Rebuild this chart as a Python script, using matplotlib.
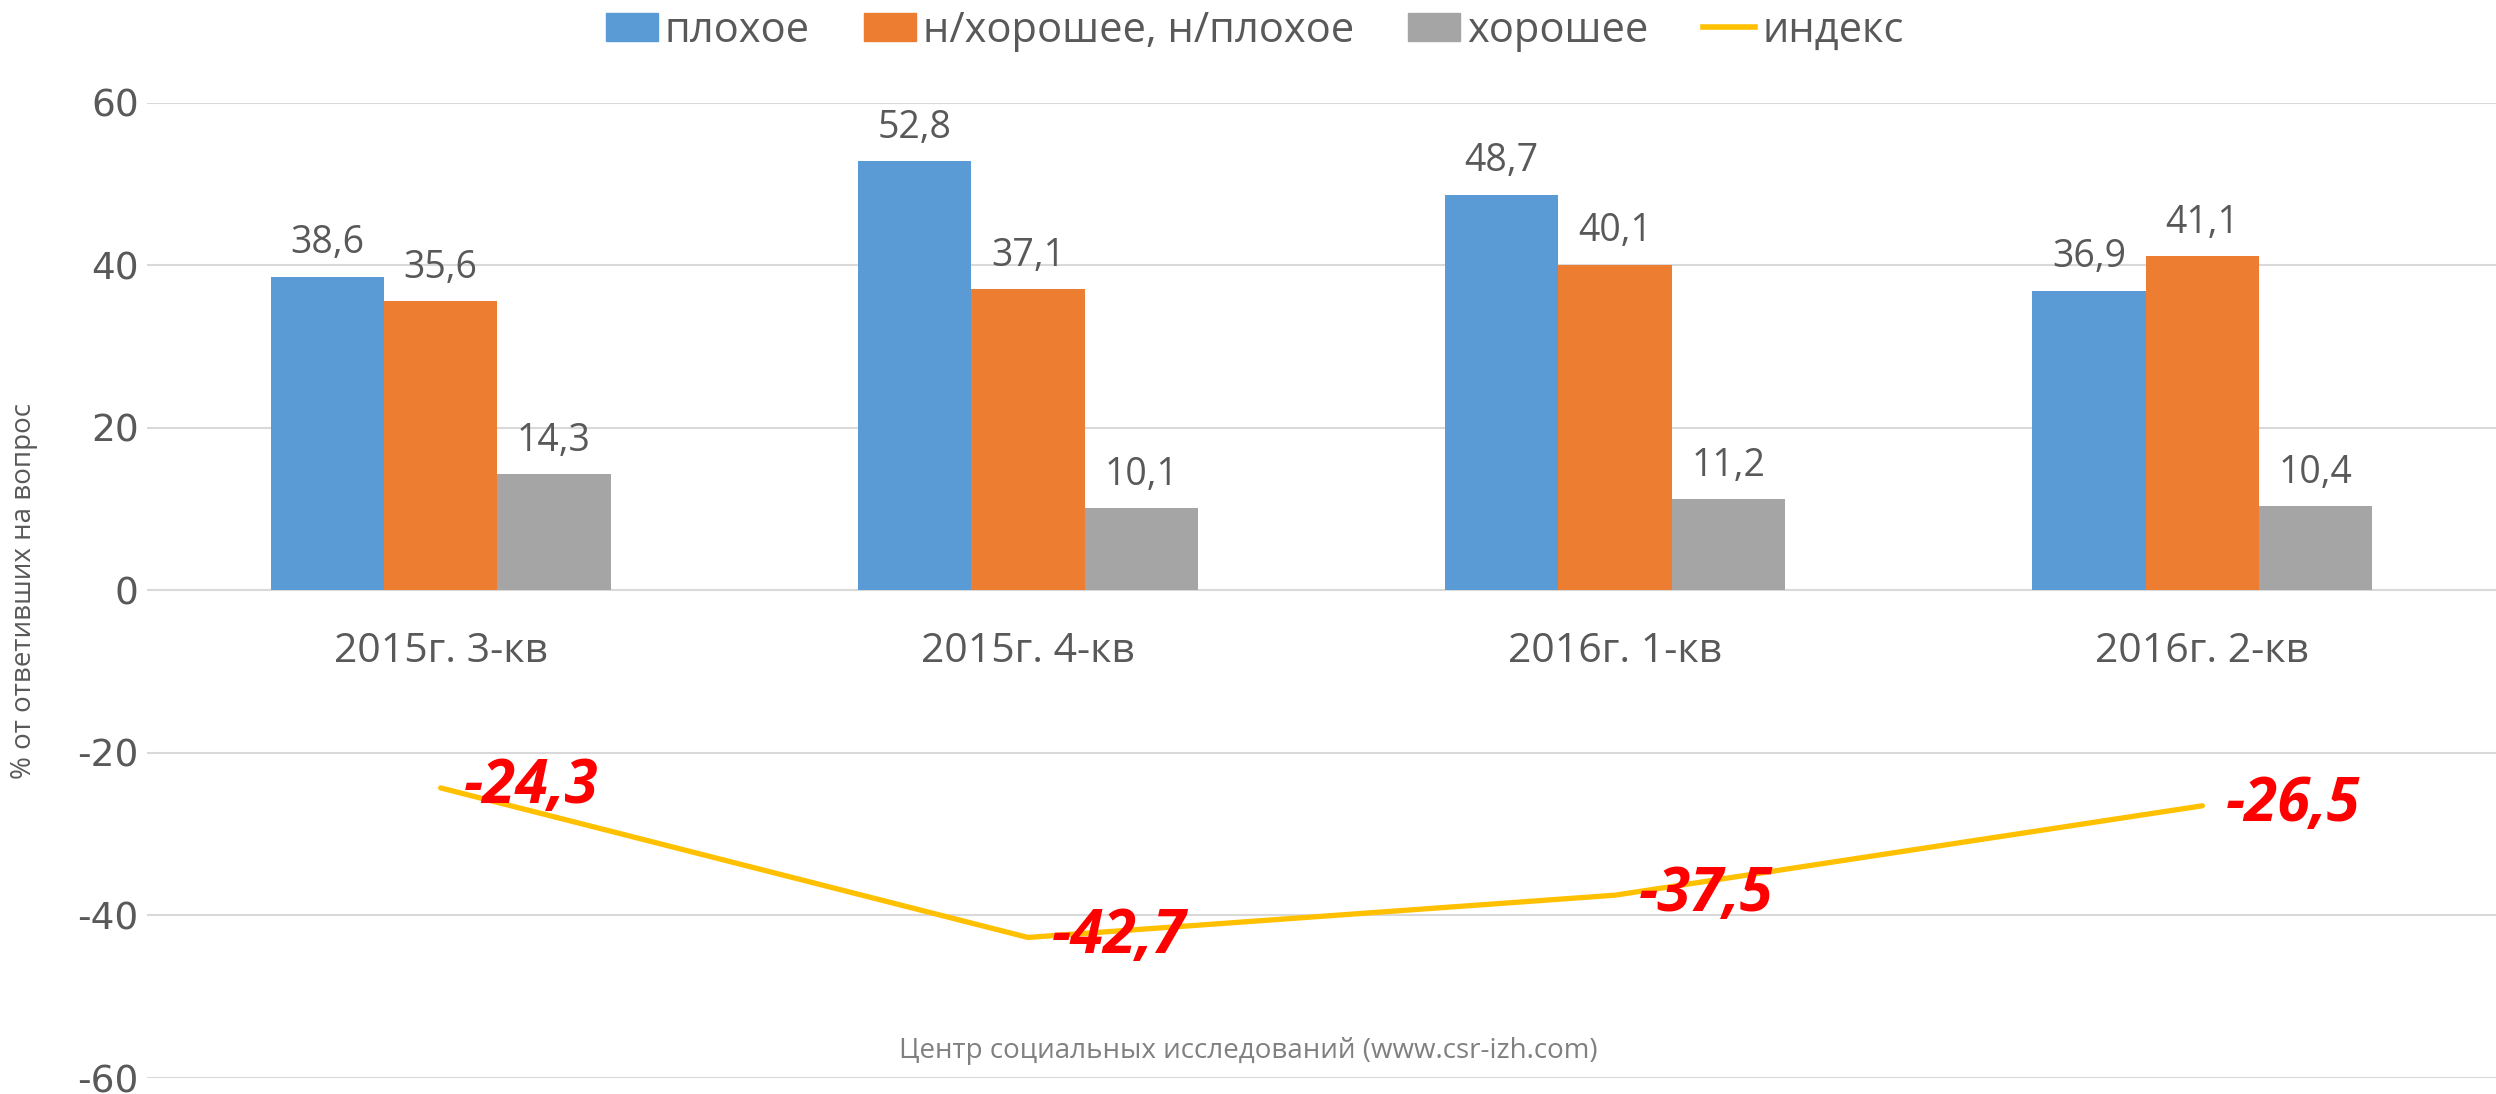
import matplotlib
matplotlib.use("Agg")
import matplotlib.pyplot as plt
from matplotlib.patches import Patch
from matplotlib.lines import Line2D
import numpy as np

categories = ["2015г. 3-кв", "2015г. 4-кв", "2016г. 1-кв", "2016г. 2-кв"]
bad = [38.6, 52.8, 48.7, 36.9]
neutral = [35.6, 37.1, 40.1, 41.1]
good = [14.3, 10.1, 11.2, 10.4]
index = [-24.3, -42.7, -37.5, -26.5]
series_names = ["плохое", "н/хорошее, н/плохое", "хорошее", "индекс"]
yticks = [-60, -40, -20, 0, 20, 40, 60]

def fmt(v):
    return f"{v:.1f}".replace(".", ",")

BLUE, ORANGE, GRAY, YELLOW = "#5B9BD5", "#ED7D31", "#A5A5A5", "#FFC000"
TXT = "#595959"
plt.rcParams['font.family'] = ['Open Sans', 'DejaVu Sans']

fig = plt.figure(figsize=(24.96, 10.94), dpi=100)
ax = fig.add_axes([0.0589, 0.0146, 0.9411, 0.8914])
ax.set_xlim(-0.5, 3.5)
ax.set_ylim(-60, 60)

x = np.arange(len(categories))
w = 0.193
for off, vals, col in [(-w, bad, BLUE), (0, neutral, ORANGE), (w, good, GRAY)]:
    ax.bar(x + off, vals, width=w, color=col, zorder=3)
    for xi, v in zip(x + off, vals):
        ax.annotate(fmt(v), (xi, v), xytext=(0, 24), textcoords="offset points",
                    ha="center", va="center", fontsize=27, color=TXT)

ax.plot(x, index, color=YELLOW, lw=3.8, zorder=4, solid_capstyle="round")
for xi, v in zip(x, index):
    ax.annotate(fmt(v), (xi, v), xytext=(17, 0), textcoords="offset points",
                ha="left", va="center", fontsize=43, color="#FF0000",
                fontweight="bold", fontstyle="italic", zorder=5)

for xi, c in zip(x, categories):
    ax.annotate(c, (xi, 0), xytext=(0, -44), textcoords="offset points",
                ha="center", va="center", fontsize=29.5, color=TXT)

ax.set_yticks(yticks)
ax.set_yticklabels([str(t) for t in yticks], family=['DejaVu Sans'], fontsize=27, color=TXT)
ax.tick_params(axis='y', length=0, pad=6)
ax.set_xticks([])
ax.grid(axis='y', color="#D9D9D9", lw=1.5, zorder=0)
for s in ax.spines.values():
    s.set_visible(False)

fig.text(0.0095, 0.46, "% от ответивших на вопрос", rotation=90, ha="center", va="center",
         fontsize=20, color=TXT)
fig.text(0.5, 0.039, "Центр социальных исследований (www.csr-izh.com)", ha="center", va="center",
         fontsize=20, color="#808080")

handles = [Patch(color=BLUE), Patch(color=ORANGE), Patch(color=GRAY),
           Line2D([0], [0], color=YELLOW, lw=4)]
fig.legend(handles, series_names, loc="center", bbox_to_anchor=(0.5026, 0.972), ncol=4,
           frameon=False, fontsize=30, labelcolor=TXT, handlelength=1.25, handleheight=0.67,
           handletextpad=0.17, columnspacing=1.3)

fig.savefig("out.png", dpi=100)
